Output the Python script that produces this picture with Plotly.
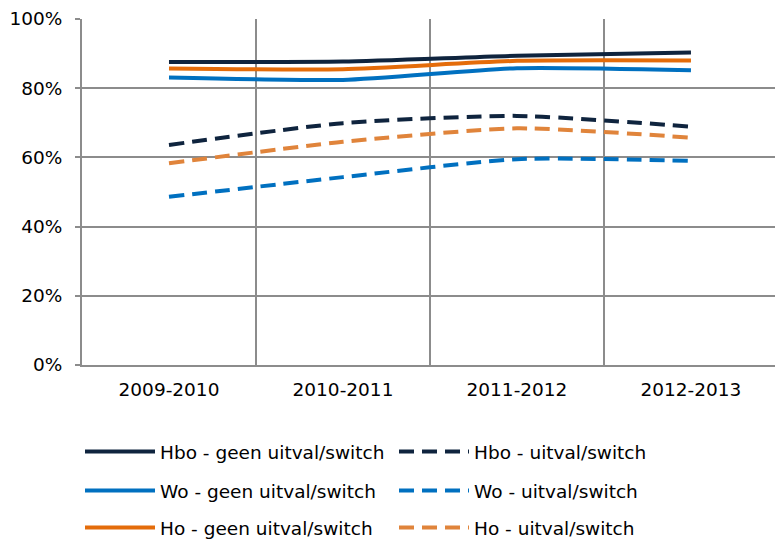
import plotly.graph_objects as go

# Academic years on the category axis
years = ["2009-2010", "2010-2011", "2011-2012", "2012-2013"]

# Share of students per group (%)
hbo_geen = [87.6, 87.7, 89.4, 90.3]
hbo_uitval = [63.6, 69.9, 72.0, 68.9]
wo_geen = [83.1, 82.4, 85.8, 85.2]
wo_uitval = [48.6, 54.3, 59.5, 59.0]
ho_geen = [85.7, 85.5, 87.9, 88.0]
ho_uitval = [58.3, 64.5, 68.4, 65.7]

y_ticks = [0, 20, 40, 60, 80, 100]
y_labels = ["0%", "20%", "40%", "60%", "80%", "100%"]

NAVY = "#0F243E"
BLUE = "#0070C0"
ORANGE = "#E46C0A"
ORANGE_LIGHT = "#E0843B"
GRID = "#8C8C8C"
FONT = "DejaVu Sans"
FSIZE = 18.5
DASH = "15px,8px"

series = [
    ("Hbo - geen uitval/switch", hbo_geen, NAVY, "solid", "legend"),
    ("Hbo - uitval/switch", hbo_uitval, NAVY, DASH, "legend"),
    ("Wo - geen uitval/switch", wo_geen, BLUE, "solid", "legend2"),
    ("Wo - uitval/switch", wo_uitval, BLUE, DASH, "legend2"),
    ("Ho - geen uitval/switch", ho_geen, ORANGE, "solid", "legend3"),
    ("Ho - uitval/switch", ho_uitval, ORANGE_LIGHT, DASH, "legend3"),
]

fig = go.Figure()
for name, vals, color, dash, leg in series:
    fig.add_trace(go.Scatter(
        x=years, y=vals, name=name, mode="lines",
        line=dict(color=color, width=4, dash=dash, shape="spline", smoothing=0.6),
        legend=leg,
    ))

legend_common = dict(
    orientation="h",
    xref="container", yref="container",
    xanchor="left", yanchor="middle",
    font=dict(family=FONT, size=FSIZE, color="#000000"),
    itemwidth=70,
    entrywidth=229,
    bgcolor="rgba(0,0,0,0)",
)

fig.update_layout(
    width=775, height=539,
    margin=dict(l=82, r=0, t=19, b=174),
    paper_bgcolor="white", plot_bgcolor="white",
    font=dict(family=FONT, size=FSIZE, color="#000000"),
    xaxis=dict(
        type="category", range=[-0.5, 3.483],
        tickson="boundaries", ticks="",
        showgrid=True, gridcolor=GRID, gridwidth=2,
        showline=True, linecolor=GRID, linewidth=2,
        tickfont=dict(family=FONT, size=FSIZE),
        ticklabelstandoff=7,
    ),
    yaxis=dict(
        range=[0, 100], tickvals=y_ticks, ticktext=y_labels,
        ticks="outside", ticklen=5, tickcolor=GRID, tickwidth=2,
        showgrid=True, gridcolor=GRID, gridwidth=2,
        showline=True, linecolor=GRID, linewidth=2,
        zeroline=False,
        tickfont=dict(family=FONT, size=FSIZE),
        ticklabelstandoff=9,
    ),
    legend=dict(x=80 / 775, y=1 - 452 / 539, **legend_common),
    legend2=dict(x=80 / 775, y=1 - 491 / 539, **legend_common),
    legend3=dict(x=80 / 775, y=1 - 528 / 539, **legend_common),
)

fig.write_html("out.html")
